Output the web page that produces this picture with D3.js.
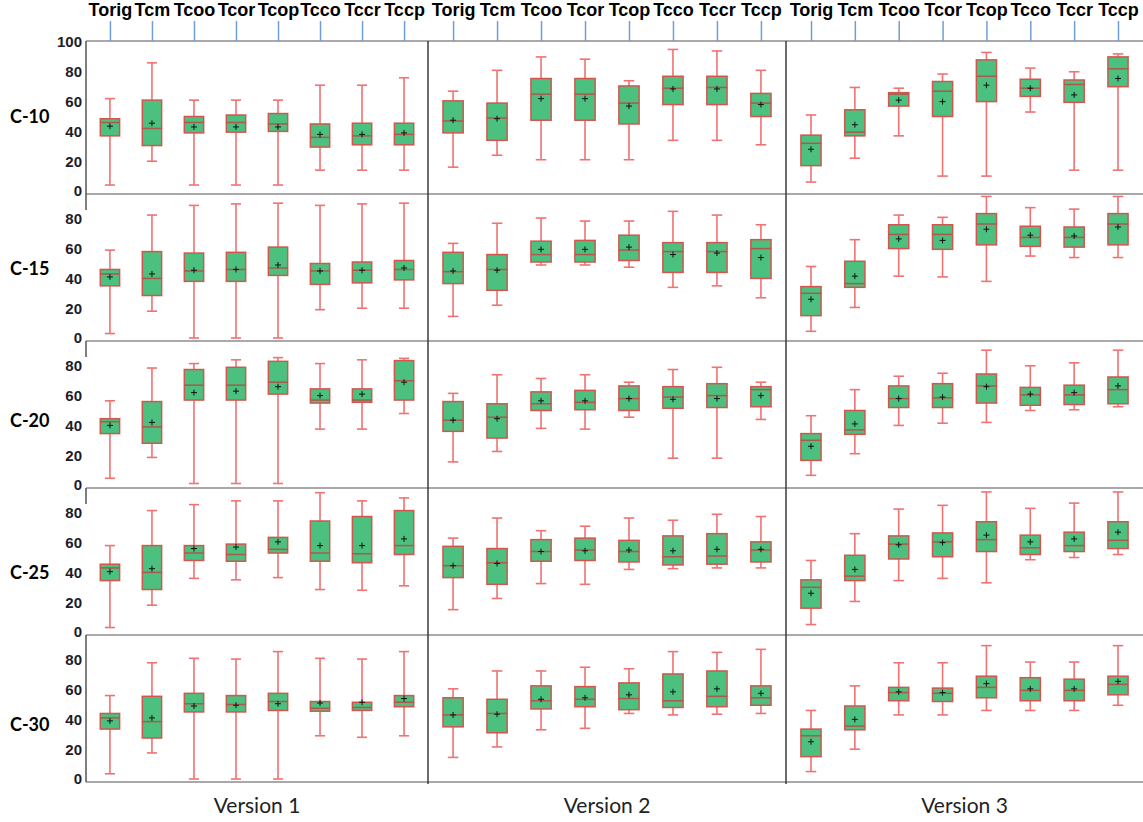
<!DOCTYPE html>
<html>
<head>
<meta charset="utf-8">
<script src="https://cdn.jsdelivr.net/npm/d3@7"></script>
<style>
  body { margin: 0; background: #fff; }
  svg { display: block; font-family: Lato, "Open Sans", sans-serif; }
</style>
</head>
<body>
<svg id="chart" width="1143" height="822"></svg>
<script>
const methods = ['Torig', 'Tcm', 'Tcoo', 'Tcor', 'Tcop', 'Tcco', 'Tccr', 'Tccp']
const versions = ['Version 1', 'Version 2', 'Version 3']
const sizes = ['C-10', 'C-15', 'C-20', 'C-25', 'C-30']

// all stats: [size][version][method]
const whiskerLow = [
    [[4, 20, 4, 4, 4, 14, 14, 14], [16, 24, 21, 21, 21, 34, 34, 31], [6, 22, 37, 10, 10, 53, 14, 14]],
    [[3, 18, 0, 0, 0, 19, 20, 20], [14.5, 22, 49, 49, 47.5, 34, 35, 27], [4.5, 20.5, 41.5, 41, 38, 55, 54, 54]],
    [[4.5, 18.5, 1, 1, 1, 37.5, 37.5, 48], [15.5, 22.5, 38, 37.5, 45.5, 18, 18, 44], [6.5, 21, 40, 41.5, 42, 50, 50.5, 52.5]],
    [[3, 18, 36, 35, 36.5, 28.5, 28, 31], [15, 22.5, 32.5, 32, 42, 42.5, 43, 43], [5, 20.5, 34.5, 36, 33, 48.5, 50, 52]],
    [[3.5, 17.5, 0, 0, 0, 29, 28, 29], [14.5, 21.5, 33, 34, 44, 43, 43.5, 44], [5, 20, 43, 43, 46, 46, 46, 49.5]]
]
const quart1 = [
    [[37, 30.5, 39, 39.5, 40, 29.5, 31, 31], [39, 34, 47.5, 47.5, 45, 58, 58, 50], [17, 37, 57, 50, 60, 63.5, 59.5, 70]],
    [[35, 28.5, 38, 38, 42, 36, 37, 39], [36.5, 32, 51, 51, 52, 44, 44, 40], [15, 34, 60, 59.5, 62.5, 61.5, 61, 62.5]],
    [[34.5, 28, 57, 57, 61, 55, 55.5, 57], [36, 31.5, 50, 50.5, 50, 51.5, 52, 52.5], [16.5, 34, 52, 52, 55, 53.5, 54, 54.5]],
    [[34.5, 28.5, 48, 47.5, 53, 47.5, 46.5, 52], [36.5, 32, 47.5, 48, 47, 45, 45.5, 47], [16, 34.5, 49, 50.5, 54, 52, 54, 56]],
    [[33.5, 27.5, 45, 45, 46, 45.5, 46, 48.5], [35, 31, 47, 48.5, 46.5, 48, 48.5, 49.5], [15, 33, 52.5, 52, 54.5, 52.5, 52.5, 56.5]]
]
const medians = [
    [[46, 42, 46, 46, 45, 36, 37, 38], [47, 49, 65, 65, 59, 69, 69.5, 59], [32, 39.5, 65, 67, 77, 69, 71.5, 82]],
    [[43, 40, 45, 46, 47, 45, 45.5, 46], [44.5, 46, 56, 56, 59, 58, 58, 60], [30, 36.5, 69.5, 69.5, 76.5, 67.5, 67.5, 76.5]],
    [[42.5, 39, 67, 67, 69, 57, 57, 70], [43.5, 45.5, 54.5, 55.5, 58, 59, 60, 64], [30, 37, 58, 58.5, 66.5, 60.5, 60.5, 64]],
    [[43, 40, 53, 52, 55.5, 53, 52.5, 58], [44.5, 46.5, 54, 55, 54, 50.5, 51, 55], [30, 37.5, 59, 60.5, 62, 56.5, 58, 61.5]],
    [[41, 38.5, 50.5, 50, 52, 47.5, 48, 51.5], [43, 44, 52.5, 53.5, 54, 52.5, 55.5, 54.5], [29, 35.5, 58, 57.5, 61.5, 59.5, 59.5, 63.5]]
]
const quart3 = [
    [[48.5, 61, 50, 51, 52, 45, 45.5, 45.5], [60.5, 59, 75.5, 75.5, 70.5, 77, 77, 65.5], [37.5, 54.5, 66, 73.5, 88, 75, 74.5, 90]],
    [[46, 58, 57, 57.5, 61, 50, 51, 52], [57.5, 56, 65, 65.5, 69, 64, 64, 66], [34.5, 51.5, 76, 76, 83.5, 75, 74.5, 83.5]],
    [[44.5, 56, 77.5, 79, 83, 64.5, 64.5, 83.5], [56, 54.5, 62.5, 63.5, 66.5, 66, 68, 66], [34.5, 50, 66.5, 68, 74.5, 65.5, 67, 72.5]],
    [[45.5, 58, 58, 59, 63.5, 74.5, 77.5, 81.5], [57.5, 56, 62, 63, 61.5, 64.5, 66, 60.5], [35, 51.5, 64.5, 66.5, 74, 65, 67, 74]],
    [[44, 55.5, 57.5, 56, 57.5, 52, 51.5, 56], [54.5, 53.5, 62.5, 62, 64.5, 70.5, 72.5, 62.5], [33.5, 49, 61.5, 61, 69, 68, 67, 69]]
]
const whiskerHigh = [
    [[62, 86, 61, 61, 61, 71, 71, 76], [67, 81, 90, 88.5, 74, 95, 94, 81], [51, 69.5, 69, 78.5, 93, 82.5, 80, 92]],
    [[59, 82.5, 89, 90, 90.5, 89, 90, 90.5], [63.5, 77, 80.5, 78.5, 78.5, 85, 82.5, 76], [48, 66, 82.5, 81, 95, 87.5, 86.5, 95]],
    [[56.5, 78.5, 81.5, 84, 85.5, 81.5, 84, 85], [61.5, 74, 71.5, 74, 69, 77.5, 79, 69], [46.5, 64, 73, 75, 90.5, 80, 82, 90.5]],
    [[58, 81.5, 85.5, 88, 88, 93.5, 88, 90], [63, 76.5, 68, 71, 76.5, 75, 79, 77.5], [48, 66, 82.5, 85, 94, 83, 86.5, 94]],
    [[56, 78, 81, 80.5, 85.5, 81, 80.5, 85.5], [60.5, 72.5, 72.5, 75, 74, 85.5, 85, 87], [46, 62.5, 78, 78, 89.5, 78.5, 78.5, 89.5]]
]
const means = [
    [[43.5, 45.5, 43, 43, 43, 38, 38, 39], [47.5, 48.5, 62, 62, 57, 68.5, 68.5, 58], [28, 44.5, 61, 60, 71, 69, 64.5, 75.5]],
    [[41, 43, 45.5, 46, 49, 45, 45.5, 47], [45, 45.5, 59.5, 59.5, 61, 56, 57, 54], [26, 41.5, 66.5, 65.5, 73, 69, 68.5, 74.5]],
    [[40, 42, 62, 63, 66, 60, 61, 69], [43.5, 44.5, 56.5, 56.5, 58, 57.5, 58, 60], [26, 41, 58, 59, 66, 61, 62, 66.5]],
    [[40.5, 42.5, 56, 57, 60.5, 58, 58, 62.5], [44.5, 46, 54, 54.5, 55, 54.5, 55.5, 55.5], [26, 42, 58.5, 60, 65, 60.5, 62.5, 67]],
    [[39, 41, 49, 49.5, 50.5, 51, 51.5, 54], [43, 43.5, 53.5, 54.5, 56.5, 58.5, 60.5, 57.5], [25, 40, 58.5, 58, 64, 60.5, 60.5, 65.5]]
]

const svg = d3.select('#chart')

// layout
const colEdges = [86, 428, 786, 1143]
const plotTop = 41
const firstZero = 191
const rowStep = 147
const rowPx = 149

const yScales = sizes.map((s, r) => d3.scaleLinear()
    .domain([0, 100])
    .range([firstZero + r * rowStep, firstZero + r * rowStep - rowPx]))

const xScales = versions.map((v, c) => d3.scalePoint()
    .domain(methods)
    .range([colEdges[c], colEdges[c + 1]])
    .padding(0.57))

const frame = svg.append('g')

// horizontal row borders
const hLines = [plotTop].concat(yScales.map(y => y(0) + 3))
frame.selectAll('line.h')
    .data(hLines)
    .enter().append('line')
        .attr('x1', colEdges[0])
        .attr('x2', colEdges[3])
        .attr('y1', d => d)
        .attr('y2', d => d)
        .attr('stroke', '#8c8c8c')
        .attr('stroke-width', 1.5)

// column dividers
frame.selectAll('line.v')
    .data([colEdges[1], colEdges[2]])
    .enter().append('line')
        .attr('x1', d => d)
        .attr('x2', d => d)
        .attr('y1', plotTop)
        .attr('y2', hLines[hLines.length - 1] + 2)
        .attr('stroke', '#3c3c3c')
        .attr('stroke-width', 1.5)

// left edge: full on first and last rows, short stubs between
yScales.forEach((y, r) => {
    const full = r == 0 || r == sizes.length - 1
    const y0 = r == 0 ? plotTop : hLines[r]
    frame.append('line')
        .attr('x1', colEdges[0])
        .attr('x2', colEdges[0])
        .attr('y1', y0)
        .attr('y2', full ? hLines[r + 1] : y0 + 16)
        .attr('stroke', '#555')
        .attr('stroke-width', 1.5)
})

// top category axes
xScales.forEach(x => {
    const ax = svg.append('g')
        .attr('transform', `translate(0,${plotTop})`)
        .call(d3.axisTop(x).tickSize(20).tickPadding(5))
    ax.select('.domain').remove()
    ax.selectAll('.tick line')
        .attr('stroke', '#6d9fd6')
        .attr('stroke-width', 1.5)
    ax.selectAll('.tick text')
        .attr('fill', '#000')
        .style('font-size', '18px')
        .style('font-weight', 'bold')
})

// y axes and row labels
yScales.forEach((y, r) => {
    const ax = svg.append('g')
        .attr('transform', `translate(${colEdges[0]},0)`)
        .call(d3.axisLeft(y)
            .tickValues(r == 0 ? [0, 20, 40, 60, 80, 100] : [0, 20, 40, 60, 80])
            .tickSize(0)
            .tickPadding(4))
    ax.select('.domain').remove()
    ax.selectAll('.tick text')
        .attr('fill', '#1c1c2a')
        .style('font-size', '15px')
        .style('font-weight', 'bold')

    svg.append('text')
        .attr('x', 10)
        .attr('y', y(50) + r * 5)
        .attr('dy', '0.35em')
        .style('font-size', '18px')
        .style('font-weight', 'bold')
        .text(sizes[r])
})

// version labels
svg.selectAll('text.version')
    .data(versions)
    .enter().append('text')
        .attr('x', (d, i) => (colEdges[i] + colEdges[i + 1]) / 2)
        .attr('y', 813)
        .attr('text-anchor', 'middle')
        .attr('fill', '#222')
        .style('font-size', '21px')
        .text(d => d)

// boxes
const boxes = svg.append('g')
sizes.forEach((s, r) => {
    const y = yScales[r]
    versions.forEach((v, c) => {
        const x = xScales[c]
        const bw = x.step() * 0.46
        const cw = x.step() * 0.24
        methods.forEach((m, k) => {
            const cx = x(m)
            const lo = whiskerLow[r][c][k], q1 = quart1[r][c][k], md = medians[r][c][k]
            const q3 = quart3[r][c][k], hi = whiskerHigh[r][c][k], mn = means[r][c][k]
            const g = boxes.append('g')

            g.append('line')
                .attr('x1', cx).attr('x2', cx)
                .attr('y1', y(lo)).attr('y2', y(hi))
                .attr('stroke', '#f07272')
                .attr('stroke-width', 1.6)
            ;[lo, hi].forEach(val => {
                g.append('line')
                    .attr('x1', cx - cw / 2).attr('x2', cx + cw / 2)
                    .attr('y1', y(val)).attr('y2', y(val))
                    .attr('stroke', '#f07272')
                    .attr('stroke-width', 1.6)
            })
            g.append('rect')
                .attr('x', cx - bw / 2)
                .attr('y', y(q3))
                .attr('width', bw)
                .attr('height', y(q1) - y(q3))
                .attr('fill', '#4cc07e')
                .attr('stroke', '#d2564e')
                .attr('stroke-width', 1.5)
            g.append('line')
                .attr('x1', cx - bw / 2).attr('x2', cx + bw / 2)
                .attr('y1', y(md)).attr('y2', y(md))
                .attr('stroke', '#a95a4a')
                .attr('stroke-width', 1.5)
            g.append('path')
                .attr('transform', `translate(${cx},${y(mn)})`)
                .attr('d', 'M-3,0H3M0,-3V3')
                .attr('stroke', '#111')
                .attr('stroke-width', 1)
        })
    })
})
</script>
</body>
</html>
